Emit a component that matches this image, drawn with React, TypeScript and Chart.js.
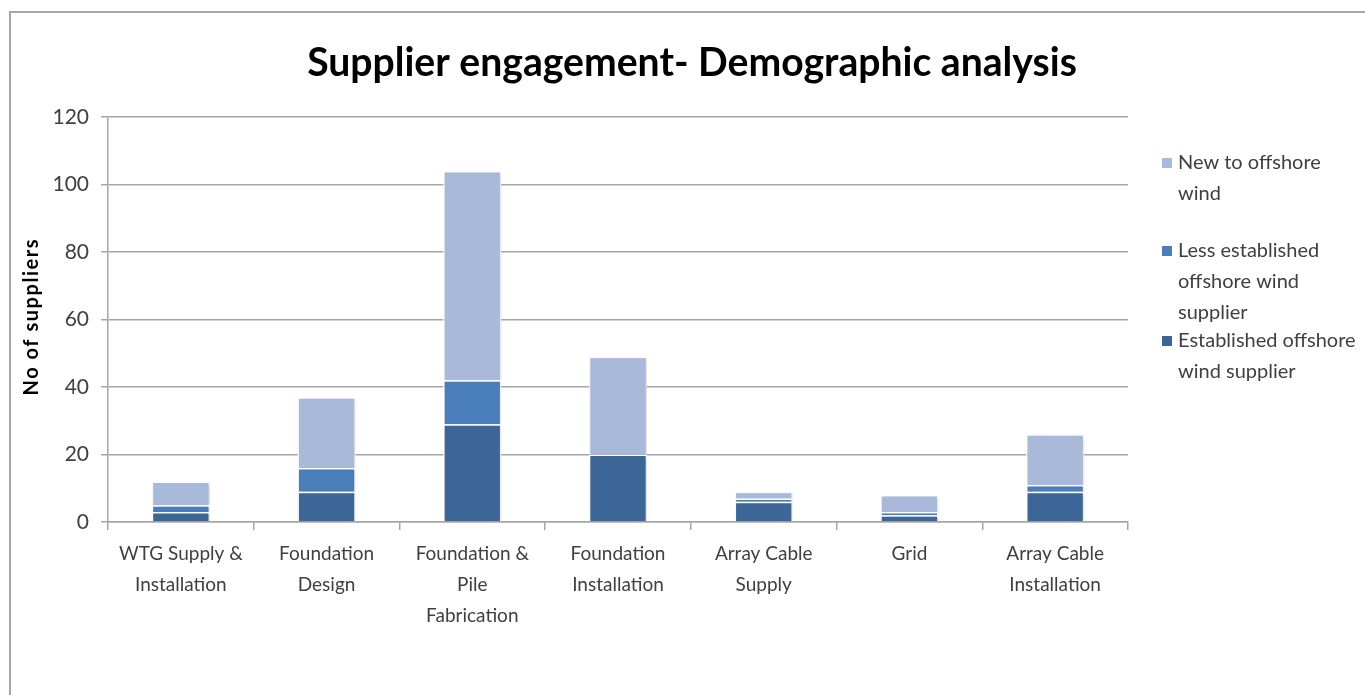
import React, { useEffect, useRef } from "react";
import { Chart, registerables } from "chart.js";

Chart.register(...registerables);

const categories: string[][] = [
  ["WTG Supply &", "Installation"],
  ["Foundation", "Design"],
  ["Foundation &", "Pile", "Fabrication"],
  ["Foundation", "Installation"],
  ["Array Cable", "Supply"],
  ["Grid"],
  ["Array Cable", "Installation"],
];
const established = [3, 9, 29, 20, 6, 2, 9];
const lessEstablished = [2, 7, 13, 0, 1, 1, 2];
const newToOffshore = [7, 21, 62, 29, 2, 5, 15];

const chartTitle = "Supplier engagement- Demographic analysis";
const yTitle = "No of suppliers";
const legendItems: { lines: string[]; color: string }[] = [
  { lines: ["New to offshore", "wind"], color: "#A8B9D9" },
  { lines: ["Less established", "offshore wind", "supplier"], color: "#4A7EBB" },
  { lines: ["Established offshore", "wind supplier"], color: "#3D6698" },
];
const legendStartY = [163, 251, 341];

const FONT = "Lato, 'Open Sans', sans-serif";

export default function App() {
  const ref = useRef<HTMLCanvasElement>(null);
  useEffect(() => {
    document.body.style.overflow = "hidden";
    const decor = {
      id: "decor",
      beforeDraw(chart: any) {
        const ctx = chart.ctx;
        ctx.save();
        ctx.fillStyle = "#ffffff";
        ctx.fillRect(0, 0, chart.width, chart.height);
        ctx.strokeStyle = "#a6a6a6";
        ctx.lineWidth = 2;
        ctx.beginPath();
        ctx.moveTo(10, chart.height);
        ctx.lineTo(10, 12);
        ctx.lineTo(chart.width, 12);
        ctx.stroke();
        ctx.restore();
      },
      beforeDatasetsDraw(chart: any) {
        const ctx = chart.ctx;
        ctx.save();
        ctx.shadowColor = "rgba(0,0,0,0.18)";
        ctx.shadowBlur = 3;
        ctx.shadowOffsetX = 1;
        ctx.shadowOffsetY = 1;
      },
      afterDatasetsDraw(chart: any) {
        chart.ctx.restore();
      },
      afterDraw(chart: any) {
        const ctx = chart.ctx;
        ctx.save();
        // title
        let size = 34;
        ctx.font = `bold ${size}px ${FONT}`;
        const w = ctx.measureText(chartTitle).width;
        size = size * (770 / w);
        ctx.font = `bold ${size}px ${FONT}`;
        ctx.fillStyle = "#000000";
        ctx.textAlign = "center";
        ctx.textBaseline = "middle";
        ctx.fillText(chartTitle, 692, 63);
        // y axis title
        const area = chart.chartArea;
        ctx.save();
        ctx.translate(32, (area.top + area.bottom) / 2 - 2);
        ctx.rotate(-Math.PI / 2);
        ctx.font = `bold 20px ${FONT}`;
        const tw = ctx.measureText(yTitle).width;
        const spacing = Math.max(0, (156 - tw) / (yTitle.length - 1));
        if ("letterSpacing" in ctx) (ctx as any).letterSpacing = `${spacing}px`;
        ctx.textAlign = "center";
        ctx.fillText(yTitle, spacing / 2, 0);
        ctx.restore();
        // legend
        ctx.font = `20px ${FONT}`;
        ctx.textAlign = "left";
        legendItems.forEach((it, i) => {
          const y0 = legendStartY[i];
          ctx.fillStyle = it.color;
          ctx.fillRect(1162, y0 - 5, 10, 10);
          ctx.fillStyle = "#404040";
          it.lines.forEach((ln, j) => ctx.fillText(ln, 1178, y0 + j * 31));
        });
        ctx.restore();
      },
    };
    const chart = new Chart(ref.current as HTMLCanvasElement, {
      type: "bar",
      data: {
        labels: categories,
        datasets: [
          {
            label: "Established offshore wind supplier",
            data: established,
            backgroundColor: legendItems[2].color,
            borderColor: "#ffffff",
            borderWidth: 1.5,
          },
          {
            label: "Less established offshore wind supplier",
            data: lessEstablished,
            backgroundColor: legendItems[1].color,
            borderColor: "#ffffff",
            borderWidth: 1.5,
          },
          {
            label: "New to offshore wind",
            data: newToOffshore,
            backgroundColor: legendItems[0].color,
            borderColor: "#ffffff",
            borderWidth: 1.5,
          },
        ],
      },
      options: {
        responsive: false,
        animation: false,
        layout: { padding: { top: 117, right: 237, bottom: 0, left: 0 } },
        datasets: { bar: { categoryPercentage: 1, barPercentage: 0.4 } },
        plugins: {
          legend: { display: false },
          title: { display: false },
          tooltip: { enabled: false },
        },
        scales: {
          x: {
            stacked: true,
            grid: {
              offset: true,
              drawOnChartArea: false,
              drawTicks: true,
              tickLength: 8,
              color: "#a6a6a6",
              lineWidth: 1.5,
            },
            border: { display: true, color: "#a6a6a6", width: 1.5 },
            ticks: {
              color: "#404040",
              font: { family: FONT, size: 19, lineHeight: 31 / 19 },
              padding: 8,
              maxRotation: 0,
              autoSkip: false,
            },
            afterFit(scale: any) {
              scale.height = 173;
            },
          },
          y: {
            stacked: true,
            min: 0,
            max: 120,
            grid: {
              color: "#a6a6a6",
              lineWidth: 1.5,
              tickLength: 7,
            },
            border: { display: true, color: "#a6a6a6", width: 1.5 },
            ticks: {
              stepSize: 20,
              color: "#404040",
              font: { family: FONT, size: 21 },
              padding: 12,
            },
            title: { display: false },
            afterFit(scale: any) {
              scale.width = 108;
            },
          },
        },
      },
      plugins: [decor],
    });
    return () => chart.destroy();
  }, []);
  return (
    <div style={{ position: "fixed", left: 0, top: 0, width: 1365, height: 695 }}>
      <canvas ref={ref} width={1365} height={695} style={{ display: "block" }} />
    </div>
  );
}
